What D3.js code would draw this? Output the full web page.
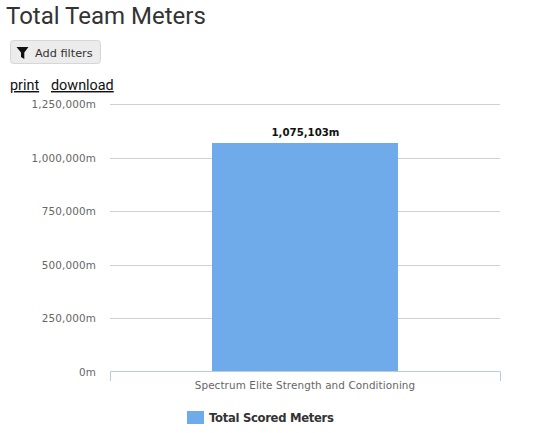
<!DOCTYPE html>
<html><head><meta charset="utf-8">
<script src="https://cdn.jsdelivr.net/npm/d3@7"></script>
<style>
html,body{margin:0;padding:0;background:#fff;overflow:hidden}
svg{display:block}
</style></head><body>
<svg id="c" width="550" height="433"></svg>
<script>
const categories=["Spectrum Elite Strength and Conditioning"];
const values=[1075103];
const yTicks=[0,250000,500000,750000,1000000,1250000];
const seriesName="Total Scored Meters";
const chartTitle="Total Team Meters";
const linkLabels=["print","download"];
const filterLabel="Add filters";

const svg=d3.select("#c");
const sans="'Helvetica Neue','Open Sans','Liberation Sans',sans-serif";
const dv="'DejaVu Sans',sans-serif";
const fmt=d=>d3.format(",")(d)+"m";
const plotL=110,plotR=500,plotT=104.4,plotB=371.5;
const x=d3.scaleBand().domain(categories).range([plotL,plotR]).paddingInner(0).paddingOuter(0);
const y=d3.scaleLinear().domain([0,1250000]).range([plotB,plotT]);

svg.append("text").attr("x",6).attr("y",24).attr("font-family","Roboto,"+sans).attr("font-size",24).attr("fill","#333").text(chartTitle);

const btn=svg.append("g");
btn.append("rect").attr("x",10.5).attr("y",40.5).attr("width",90).attr("height",23).attr("rx",3).attr("fill","#ececec").attr("stroke","#d6d6d6");
btn.append("path").attr("d","M16.5 47H28.5L24.3 52.5V59L21 57V52.5Z").attr("fill","#111");
btn.append("text").attr("x",35).attr("y",57).attr("font-family",dv).attr("font-size",11.3).attr("fill","#333").text(filterLabel);

const linkX=[10,51];
svg.selectAll("text.lnk").data(linkLabels).join("text").attr("class","lnk")
  .attr("x",(d,i)=>linkX[i]).attr("y",90).attr("font-family","Roboto,"+sans).attr("font-size",14.4)
  .attr("fill","#111").attr("text-decoration","underline").text(d=>d);

const grid=svg.append("g");
grid.selectAll("line").data(yTicks.filter(d=>d>0)).join("line")
  .attr("x1",plotL).attr("x2",plotR).attr("y1",d=>Math.round(y(d))+.5).attr("y2",d=>Math.round(y(d))+.5)
  .attr("stroke","#d0d0d0");

const yAxis=d3.axisLeft(y).tickValues(yTicks).tickSize(0).tickPadding(0).tickFormat(fmt);
const gy=svg.append("g").attr("transform","translate(96,0)").call(yAxis);
gy.select(".domain").remove();
gy.selectAll("text").attr("font-family",dv).attr("font-size",10.4).attr("fill","#666").attr("letter-spacing",".15").attr("dy","3.5");

const barW=186, barTopNudge=1;
const barTop=d=>Math.round(y(d))+barTopNudge;
svg.selectAll("rect.bar").data(values).join("rect").attr("class","bar")
  .attr("x",(d,i)=>x(categories[i])+x.bandwidth()/2-barW/2)
  .attr("width",barW).attr("y",barTop).attr("height",d=>371-barTop(d)).attr("fill","#6faaeb");

svg.selectAll("text.val").data(values).join("text").attr("class","val")
  .attr("x",305.5).attr("y",d=>barTop(d)-7).attr("text-anchor","middle")
  .attr("font-family",dv).attr("font-size",10.2).attr("font-weight","bold").attr("fill","#111").text(fmt);

const xAxis=d3.axisBottom(x).tickSize(10).tickSizeOuter(10).tickPadding(4).tickValues([]);
const gx=svg.append("g").attr("transform","translate(0,371)").call(xAxis);
gx.select(".domain").attr("stroke","#b9cbe0").attr("stroke-width",1);
svg.selectAll("text.cat").data(categories).join("text").attr("class","cat")
  .attr("x",305).attr("y",389).attr("text-anchor","middle").attr("font-family",dv)
  .attr("font-size",10.4).attr("letter-spacing",".1").attr("fill","#666").text(d=>d);

svg.append("rect").attr("x",187).attr("y",411).attr("width",17).attr("height",13).attr("fill","#6faaeb");
svg.append("text").attr("x",209).attr("y",422).attr("font-family",dv).attr("font-size",11.6).attr("letter-spacing","-.3").attr("font-weight","bold").attr("fill","#333").text(seriesName);
</script></body></html>
